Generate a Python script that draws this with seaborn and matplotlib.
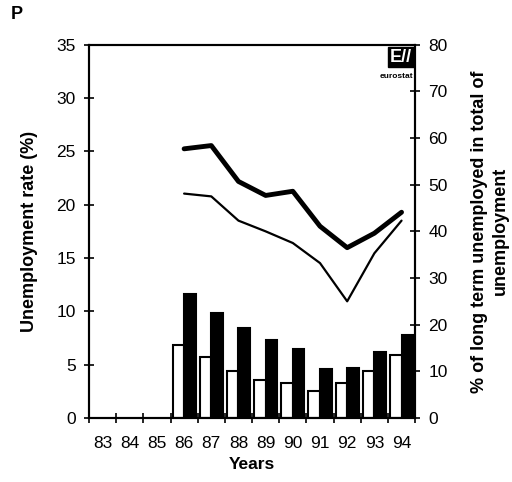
import pandas as pd
import matplotlib.pyplot as plt
import seaborn as sns
import numpy as np

# Daten
years = ['83', '84', '85', '86', '87', '88', '89', '90', '91', '92', '93', '94']
bar_years = ['86', '87', '88', '89', '90', '91', '92', '93', '94']
rate_white = [6.8, 5.7, 4.4, 3.6, 3.3, 2.5, 3.3, 4.4, 5.9]
rate_black = [11.6, 9.8, 8.4, 7.3, 6.5, 4.6, 4.7, 6.2, 7.8]
lt_thick = [57.7, 58.4, 50.7, 47.7, 48.6, 41.1, 36.5, 39.6, 44.1]
lt_thin = [48.1, 47.5, 42.3, 40.0, 37.5, 33.2, 25.0, 35.3, 42.3]

bars = pd.DataFrame({
    'year': bar_years * 2,
    'rate': rate_white + rate_black,
    'group': ['a'] * len(bar_years) + ['b'] * len(bar_years),
})

sns.set_style('ticks')
plt.rcParams['font.family'] = ['Liberation Sans', 'DejaVu Sans']
for k in ['text.color', 'axes.labelcolor', 'xtick.color', 'ytick.color', 'axes.edgecolor']:
    plt.rcParams[k] = 'black'

fig = plt.figure(figsize=(5.12, 4.82), dpi=100)
ax = fig.add_axes([0.1738, 0.133, 0.637, 0.774])

sns.barplot(data=bars, x='year', y='rate', hue='group', order=years,
            hue_order=['a', 'b'], palette={'a': 'white', 'b': 'black'},
            edgecolor='black', linewidth=1.5, width=0.85, legend=False, ax=ax)

ax.set_xlim(-0.5, len(years) - 0.5)
ax.set_ylim(0, 35)
ax.set_yticks(np.arange(0, 36, 5))
ax.set_xticks(np.arange(len(years) + 1) - 0.5, minor=True)
ax.tick_params(axis='x', which='major', length=0, labelsize=12.5, pad=13)
ax.tick_params(axis='x', which='minor', direction='inout', length=7, width=1.2)
ax.tick_params(axis='y', direction='inout', length=7, width=1.2, labelsize=12.5, pad=6)
for s in ax.spines.values():
    s.set_linewidth(1.5)

ax.set_xlabel('Years', fontsize=12.5, fontweight='bold', labelpad=4)
ax.set_ylabel('Unemployment rate (%)', fontsize=13, fontweight='bold', labelpad=13)

# rechte Achse
ax2 = ax.twinx()
pos = [years.index(y) for y in bar_years]
lines = pd.DataFrame({'x': pos * 2, 'v': lt_thick + lt_thin,
                      's': ['thick'] * len(pos) + ['thin'] * len(pos)})
sns.lineplot(data=lines[lines['s'] == 'thick'], x='x', y='v', color='black',
             linewidth=3.5, ax=ax2)
sns.lineplot(data=lines[lines['s'] == 'thin'], x='x', y='v', color='black',
             linewidth=1.6, ax=ax2)
ax2.set_ylim(0, 80)
ax2.set_yticks(np.arange(0, 81, 10))
ax2.tick_params(axis='y', direction='inout', length=7, width=1.2, labelsize=12.5, pad=6)
ax2.set_ylabel('% of long term unemployed in total of\nunemployment',
               fontsize=13, fontweight='bold', labelpad=17, linespacing=1.25)
ax2.set_xlabel('')
ax2.set_xlim(-0.5, len(years) - 0.5)
for s in ax2.spines.values():
    s.set_linewidth(1.5)

# Logo
ax.text(0.99, 0.99, 'E//', transform=ax.transAxes, ha='right', va='top',
        fontsize=13, fontweight='bold', color='white',
        bbox=dict(boxstyle='square,pad=0.1', fc='black', ec='black'))
ax.text(0.995, 0.925, 'eurostat', transform=ax.transAxes, ha='right', va='top',
        fontsize=6, fontweight='bold')

fig.text(0.033, 0.969, 'P', fontsize=13, fontweight='bold', ha='center', va='center')

plt.savefig('out.png', dpi=100)
